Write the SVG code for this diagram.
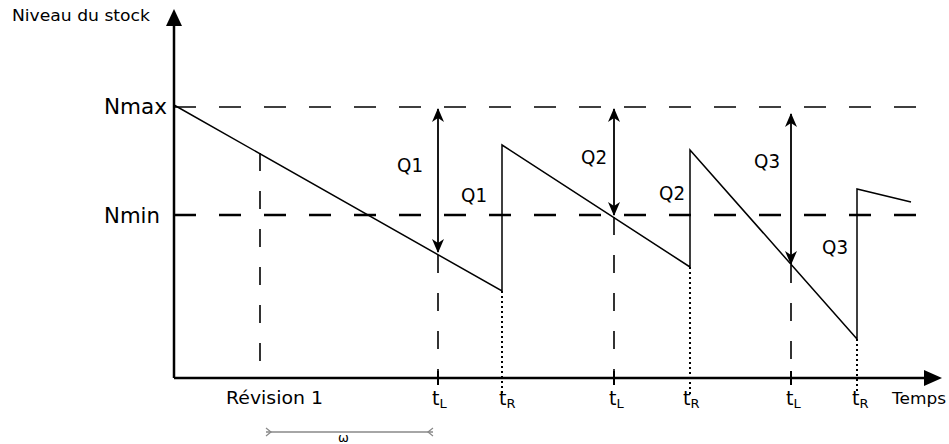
<svg xmlns="http://www.w3.org/2000/svg" width="949" height="444" viewBox="0 0 949 444">
<defs>
<marker id="ah" viewBox="0 0 14 12" markerWidth="14" markerHeight="12" refX="13" refY="6" orient="auto-start-reverse" markerUnits="userSpaceOnUse">
<path d="M0,0 L14,6 L0,12 L4,6 Z" fill="#000"/>
</marker>
</defs>
<style>
text{font-family:"DejaVu Sans","Liberation Sans",sans-serif;fill:#000}
.lbl{font-size:19px}
.t{font-size:19px}
.sub{font-size:13px}
.ax{stroke:#000;stroke-width:2.5;fill:none}
.saw{stroke:#000;stroke-width:1.5;fill:none}
.dmax{stroke:#000;stroke-width:1.4;stroke-dasharray:22 23;fill:none}
.dmin{stroke:#000;stroke-width:2.6;stroke-dasharray:22 23;fill:none}
.vd{stroke:#000;stroke-width:1.6;stroke-dasharray:18 20;fill:none}
.dot{stroke:#000;stroke-width:2;stroke-dasharray:2 3;fill:none}
.qa{stroke:#000;stroke-width:1.8;fill:none;marker-start:url(#ah);marker-end:url(#ah)}
</style>
<g id="axes">
<line class="ax" x1="174" y1="378" x2="174" y2="24"/>
<path d="M166,26 L174,9 L182,26 Z" fill="#000"/>
<line class="ax" x1="174" y1="378" x2="926" y2="378"/>
<path d="M924,370 L942,378 L924,386 Z" fill="#000"/>
<text x="12" y="21" font-size="15.5" textLength="138" lengthAdjust="spacingAndGlyphs">Niveau du stock</text>
<text x="892" y="404" font-size="16" textLength="54" lengthAdjust="spacingAndGlyphs">Temps</text>
</g>
<g id="levels">
<line class="dmax" x1="174" y1="107" x2="935" y2="107"/>
<line class="dmin" x1="174" y1="215" x2="920" y2="215"/>
<text x="104" y="114" font-size="22" textLength="63" lengthAdjust="spacingAndGlyphs">Nmax</text>
<text x="104" y="223" font-size="22" textLength="56" lengthAdjust="spacingAndGlyphs">Nmin</text>
</g>
<g id="stock-curve">
<polyline class="saw" points="174,105 502,291 502,145 690,267 690,150 857,339 857,189 911,202"/>
</g>
<g id="connectors">
<line class="vd" x1="260" y1="153" x2="260" y2="378"/>
<line class="vd" x1="438" y1="253" x2="438" y2="378" stroke-dashoffset="-2"/>
<line class="vd" x1="614" y1="217" x2="614" y2="378"/>
<line class="vd" x1="791" y1="265" x2="791" y2="378"/>
<line class="dot" x1="502" y1="291" x2="502" y2="394"/>
<line class="dot" x1="690" y1="267" x2="690" y2="394"/>
<line class="dot" x1="857" y1="339" x2="857" y2="394"/>
<line stroke="#000" stroke-width="2" x1="438" y1="371" x2="438" y2="385"/>
<line stroke="#000" stroke-width="2" x1="614" y1="371" x2="614" y2="385"/>
<line stroke="#000" stroke-width="2" x1="791" y1="371" x2="791" y2="385"/>
<line class="qa" x1="438" y1="109" x2="438" y2="252"/>
<line class="qa" x1="614" y1="109" x2="614" y2="215"/>
<line class="qa" x1="791" y1="114" x2="791" y2="264"/>
<line stroke="#888" stroke-width="1.3" x1="266" y1="432" x2="433" y2="432"/>
<path d="M266,428 L271,432 L266,436" stroke="#888" stroke-width="1.2" fill="none"/>
<path d="M433,428 L428,432 L433,436" stroke="#888" stroke-width="1.2" fill="none"/>
</g>
<g id="labels">
<text class="lbl" x="397" y="172" textLength="26" lengthAdjust="spacingAndGlyphs">Q1</text>
<text class="lbl" x="461" y="202" textLength="26" lengthAdjust="spacingAndGlyphs">Q1</text>
<text class="lbl" x="581" y="164" textLength="26" lengthAdjust="spacingAndGlyphs">Q2</text>
<text class="lbl" x="659" y="200" textLength="26" lengthAdjust="spacingAndGlyphs">Q2</text>
<text class="lbl" x="754" y="168" textLength="26" lengthAdjust="spacingAndGlyphs">Q3</text>
<text class="lbl" x="822" y="254" textLength="26" lengthAdjust="spacingAndGlyphs">Q3</text>
<text x="226" y="404" font-size="17" textLength="97" lengthAdjust="spacingAndGlyphs">Révision 1</text>
<text x="338" y="442" font-size="13">ω</text>
<text class="t" x="432" y="405">t<tspan class="sub" dy="3">L</tspan></text>
<text class="t" x="499" y="405">t<tspan class="sub" dy="3">R</tspan></text>
<text class="t" x="609" y="405">t<tspan class="sub" dy="3">L</tspan></text>
<text class="t" x="683" y="405">t<tspan class="sub" dy="3">R</tspan></text>
<text class="t" x="786" y="405">t<tspan class="sub" dy="3">L</tspan></text>
<text class="t" x="852" y="405">t<tspan class="sub" dy="3">R</tspan></text>
</g>
</svg>
